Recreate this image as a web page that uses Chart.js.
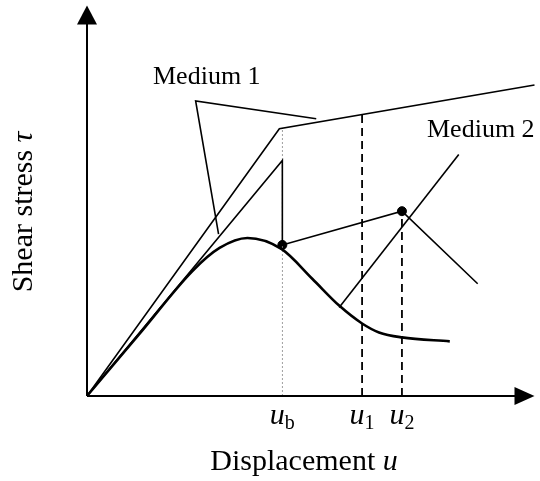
<!DOCTYPE html>
<html>
<head>
<meta charset="utf-8">
<script src="https://cdn.jsdelivr.net/npm/chart.js@4.4.1/dist/chart.umd.min.js"></script>
<style>
  html, body { margin: 0; padding: 0; background: #fff; }
  #wrap { width: 540px; height: 481px; position: relative; }
</style>
</head>
<body>
<div id="wrap"><canvas id="shearChart"></canvas></div>
<script>
// Schematic values (arbitrary units: displacement u, shear stress tau)
const xMax = 449;
const yMax = 393;

// Medium 1: elastic then hardening branch
const medium1X = [0, 193, 449];
const medium1Y = [0, 269, 313];

// Medium 2: elastic, brittle drop at u_b, then unloading/reloading path
const medium2X = [0, 196, 196, 316, 392];
const medium2Y = [0, 237, 152, 186, 113];

// Softening curve (peak then residual)
const curveX = [0, 53, 106, 133, 161, 195, 226, 253, 276, 293, 316, 364];
const curveY = [0, 63, 126, 149, 159, 148, 118, 91, 73, 64, 59, 55];

// Marked states
const dotX = [196, 316];
const dotY = [152, 186];

// Leader lines for the labels
const leader1X = [230, 109, 132];
const leader1Y = [279, 297, 163];
const leader2X = [253, 373];
const leader2Y = [89, 243];

// Reference displacements
const tickValues = [196, 276, 316];
const tickLabels = [['u', 'b'], ['u', '1'], ['u', '2']];
const tickTops = [269, 283, 186];

function pts(xs, ys) {
    return xs.map((x, i) => ({ x: x, y: ys[i] }));
}

function solid(data, width) {
    return {
        data: data,
        showLine: true,
        borderColor: '#000',
        borderWidth: width,
        pointRadius: 0,
        fill: false
    };
}

const datasets = [
    solid(pts(medium1X, medium1Y), 1.6),
    solid(pts(medium2X, medium2Y), 1.6),
    Object.assign(solid(pts(curveX, curveY), 2.6), { cubicInterpolationMode: 'monotone' }),
    solid(pts(leader1X, leader1Y), 1.6),
    solid(pts(leader2X, leader2Y), 1.6),
    // u_b dotted guide
    Object.assign(solid(pts([tickValues[0], tickValues[0]], [0, tickTops[0]]), 0.8),
        { borderColor: '#888', borderDash: [2, 2] }),
    // u_1 and u_2 dashed guides
    Object.assign(solid(pts([tickValues[1], tickValues[1]], [0, tickTops[1]]), 1.8),
        { borderDash: [8, 5] }),
    Object.assign(solid(pts([tickValues[2], tickValues[2]], [0, tickTops[2]]), 1.8),
        { borderDash: [8, 5] }),
    {
        data: pts(dotX, dotY),
        showLine: false,
        pointRadius: 4.5,
        pointBackgroundColor: '#000',
        pointBorderColor: '#000'
    }
];

// Axes with arrows, tick labels and texts
const decorations = {
    id: 'decorations',
    afterDatasetsDraw(chart) {
        const ctx = chart.ctx;
        const a = chart.chartArea;
        const xs = chart.scales.x;
        ctx.save();
        ctx.strokeStyle = '#000';
        ctx.fillStyle = '#000';
        ctx.lineWidth = 2;

        // x axis
        ctx.beginPath();
        ctx.moveTo(a.left, a.bottom);
        ctx.lineTo(a.right - 18, a.bottom);
        ctx.stroke();
        ctx.beginPath();
        ctx.moveTo(a.right, a.bottom);
        ctx.lineTo(a.right - 20, a.bottom - 9);
        ctx.lineTo(a.right - 20, a.bottom + 9);
        ctx.closePath();
        ctx.fill();

        // y axis
        ctx.beginPath();
        ctx.moveTo(a.left, a.bottom);
        ctx.lineTo(a.left, a.top + 18);
        ctx.stroke();
        ctx.beginPath();
        ctx.moveTo(a.left, a.top);
        ctx.lineTo(a.left - 10, a.top + 19);
        ctx.lineTo(a.left + 10, a.top + 19);
        ctx.closePath();
        ctx.fill();

        // tick labels u_b, u_1, u_2
        ctx.textBaseline = 'alphabetic';
        tickValues.forEach((v, i) => {
            const px = xs.getPixelForValue(v);
            ctx.font = 'italic 30px "Liberation Serif", "Times New Roman", serif';
            const w1 = ctx.measureText(tickLabels[i][0]).width;
            ctx.font = '20px "Liberation Serif", "Times New Roman", serif';
            const w2 = ctx.measureText(tickLabels[i][1]).width;
            const x0 = px - (w1 + w2) / 2;
            ctx.font = 'italic 30px "Liberation Serif", "Times New Roman", serif';
            ctx.textAlign = 'left';
            ctx.fillText(tickLabels[i][0], x0, a.bottom + 28);
            ctx.font = '20px "Liberation Serif", "Times New Roman", serif';
            ctx.fillText(tickLabels[i][1], x0 + w1, a.bottom + 33);
        });

        // x title
        ctx.font = '30px "Liberation Serif", "Times New Roman", serif';
        const t1 = 'Displacement ';
        ctx.font = 'italic 30px "Liberation Serif", "Times New Roman", serif';
        const wu = ctx.measureText('u').width;
        ctx.font = '30px "Liberation Serif", "Times New Roman", serif';
        const wt = ctx.measureText(t1).width;
        let sx = 304 - (wt + wu) / 2;
        ctx.fillText(t1, sx, 470);
        ctx.font = 'italic 30px "Liberation Serif", "Times New Roman", serif';
        ctx.fillText('u', sx + wt, 470);

        // y title (rotated)
        ctx.save();
        ctx.translate(32, 212);
        ctx.rotate(-Math.PI / 2);
        ctx.font = '30px "Liberation Serif", "Times New Roman", serif';
        const s1 = 'Shear stress ';
        const ws = ctx.measureText(s1).width;
        ctx.font = 'italic 30px "Liberation Serif", "Times New Roman", serif';
        const wtau = ctx.measureText('τ').width;
        const sy = -(ws + wtau) / 2;
        ctx.font = '30px "Liberation Serif", "Times New Roman", serif';
        ctx.fillText(s1, sy, 0);
        ctx.font = 'italic 30px "Liberation Serif", "Times New Roman", serif';
        ctx.fillText('τ', sy + ws, 0);
        ctx.restore();

        // medium labels
        ctx.font = '26px "Liberation Serif", "Times New Roman", serif';
        ctx.fillText('Medium 1', 153, 84);
        ctx.fillText('Medium 2', 427, 137);

        ctx.restore();
    }
};

new Chart(document.getElementById('shearChart'), {
    type: 'scatter',
    data: { datasets: datasets },
    options: {
        responsive: true,
        maintainAspectRatio: false,
        animation: false,
        clip: false,
        layout: { padding: { left: 87, right: 4, top: 3, bottom: 85 } },
        plugins: { legend: { display: false }, tooltip: { enabled: false } },
        scales: {
            x: { type: 'linear', min: 0, max: xMax, display: false },
            y: { type: 'linear', min: 0, max: yMax, display: false }
        }
    },
    plugins: [decorations]
});
</script>
</body>
</html>
